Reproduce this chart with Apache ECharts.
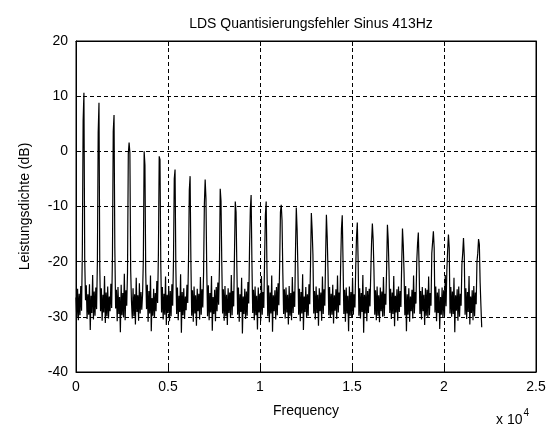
<!DOCTYPE html>
<html><head><meta charset="utf-8">
<script src="https://cdn.jsdelivr.net/npm/echarts@6/dist/echarts.min.js"></script>
<style>html,body{margin:0;padding:0;background:#fff}#c{width:555px;height:427px}</style>
</head><body><div id="c"></div>
<script>
// FFT bin spacing (fs = 44100 Hz, N = 1024)
const binHz = 44100 / 1024;
// Power spectral density (dB) per bin, 0 .. 22050 Hz
const psdDb = [
 /*0*/   -26.5,-30.2,-24.9,-30.6,-25.8,-29.7,-24.4,-28.9,-18.0,5.5,10.6,-19.5,-27.0,
 /*13*/  -24.3,-30.4,-25.9,-29.6,-24.1,-32.4,-26.2,-29.3,-22.4,-30.5,-25.4,-29.8,-24.7,-28.6,
 /*27*/  -20.0,3.4,8.8,-21.0,-29.0,
 /*32*/  -24.8,-30.7,-26.0,-29.2,-22.6,-31.1,-25.6,-29.9,-24.5,-30.3,-26.3,-29.0,-24.0,-28.4,
 /*46*/  -19.0,3.6,6.6,-17.5,-28.5,
 /*51*/  -25.1,-30.8,-24.6,-29.5,-26.4,-32.8,-24.2,-29.7,-25.7,-30.1,-22.2,-30.6,-25.2,-28.0,
 /*65*/  -22.0,-0.5,1.6,-0.2,-21.5,
 /*70*/  -27.2,-30.3,-24.8,-29.9,-25.9,-31.4,-22.9,-29.1,-26.1,-30.7,-23.9,-29.4,-25.5,-28.7,
 /*84*/  -26.0,-19.5,0.0,-2.5,-22.0,
 /*89*/  -28.6,-24.2,-30.9,-25.3,-29.4,-22.5,-32.6,-26.6,-29.8,-24.9,-30.2,-25.7,-29.0,-23.5,
 /*103*/ -27.5,-18.5,-0.9,-1.5,-20.5,
 /*108*/ -29.2,-24.6,-30.5,-25.8,-29.6,-22.7,-31.5,-26.0,-29.3,-24.4,-30.8,-25.3,-29.9,-24.1,
 /*122*/ -28.0,-20.0,-5.0,-3.3,-21.0,
 /*127*/ -29.5,-24.7,-30.6,-26.2,-29.1,-22.3,-32.9,-25.5,-29.7,-24.8,-30.4,-26.3,-28.8,-24.2,
 /*141*/ -27.5,-19.5,-7.0,-4.5,-20.0,
 /*146*/ -29.8,-25.2,-30.9,-24.5,-29.4,-26.1,-31.6,-24.9,-29.0,-25.8,-30.5,-22.8,-29.6,-25.0,
 /*160*/ -28.3,-22.0,-9.5,-5.1,-8.5,-21.5,
 /*166*/ -29.9,-24.3,-30.6,-25.7,-29.2,-22.6,-32.5,-26.4,-29.5,-25.1,-30.8,-24.6,-29.0,-23.8,
 /*180*/ -27.8,-21.0,-6.8,-9.0,-20.5,
 /*185*/ -29.4,-25.0,-30.7,-24.4,-29.9,-26.0,-31.5,-24.8,-29.3,-25.6,-30.2,-22.4,-29.7,-25.3,
 /*199*/ -28.1,-18.5,-9.1,-11.0,-21.0,
 /*204*/ -29.6,-24.7,-30.9,-25.9,-29.1,-22.9,-33.0,-26.3,-29.5,-24.9,-30.4,-25.4,-29.8,-23.7,
 /*218*/ -27.6,-17.5,-10.5,-7.9,-20.0,
 /*223*/ -29.3,-25.1,-30.6,-24.5,-29.7,-26.2,-32.3,-24.7,-29.2,-25.8,-30.8,-22.6,-29.6,-25.5,
 /*237*/ -28.4,-19.5,-11.5,-9.1,-21.5,
 /*242*/ -29.9,-24.3,-31.0,-25.6,-29.4,-22.5,-32.7,-26.1,-29.0,-25.2,-30.5,-24.6,-29.7,-23.9,
 /*256*/ -27.9,-20.5,-11.0,-9.7,-12.5,-22.0,
 /*262*/ -29.5,-25.0,-30.3,-24.7,-29.2,-26.0,-31.4,-24.4,-29.8,-25.7,-30.6,-22.8,-29.3,-25.4,
 /*276*/ -28.2,-18.0,-10.2,-14.0,-21.0,
 /*281*/ -29.6,-24.9,-30.8,-25.5,-29.4,-22.3,-32.4,-26.3,-29.1,-24.6,-30.2,-25.9,-29.8,-24.1,
 /*295*/ -27.7,-20.0,-11.2,-14.2,-18.7,
 /*300*/ -29.4,-25.3,-30.5,-24.5,-29.3,-26.0,-31.6,-24.8,-29.0,-25.6,-30.7,-22.7,-29.5,-25.0,
 /*314*/ -28.0,-19.0,-11.5,-15.5,-21.5,
 /*319*/ -29.7,-24.6,-30.1,-25.8,-29.6,-24.2,-31.2,-26.1,-28.9,-25.0,-30.4,-22.5,-29.2,-25.6,
 /*333*/ -27.9,-20.5,-14.0,-11.6,-20.0,
 /*338*/ -29.5,-25.1,-30.9,-24.7,-29.4,-26.2,-32.6,-24.5,-29.8,-25.5,-30.2,-22.9,-29.6,-25.9,
 /*352*/ -28.3,-21.0,-15.5,-12.9,-19.5,
 /*357*/ -29.8,-24.8,-30.3,-25.7,-29.1,-22.4,-32.9,-26.0,-29.4,-24.6,-30.8,-25.3,-29.3,-24.9,
 /*371*/ -28.1,-22.0,-16.5,-13.1,-16.0,-21.5,
 /*377*/ -29.6,-25.2,-30.6,-24.5,-29.8,-26.1,-31.0,-24.7,-29.0,-25.4,-30.0,-22.8,-29.9,-25.8,
 /*391*/ -27.8,-21.0,-13.3,-16.0,-21.5,
 /*396*/ -29.3,-24.9,-30.4,-25.6,-29.5,-22.6,-31.7,-26.2,-29.2,-25.0,-30.7,-24.5,-29.1,-25.3,
 /*410*/ -28.2,-20.5,-14.0,-17.0,-22.0,
 /*415*/ -29.7,-24.4,-32.6,-25.9,-29.6,-24.8,-30.9,-26.3,-29.0,-25.1,-30.3,-22.5,-29.4,-25.5,
 /*429*/ -27.6,-20.0,-16.8,-14.7,-21.0,
 /*434*/ -29.5,-25.3,-30.5,-24.6,-29.0,-26.0,-31.5,-24.8,-29.8,-25.1,-30.2,-22.7,-29.7,-25.7,
 /*448*/ -28.0,-18.5,-18.5,-14.5,-17.5,
 /*453*/ -29.2,-24.5,-30.8,-25.6,-29.3,-24.9,-32.2,-26.4,-29.6,-24.7,-30.1,-25.2,-29.8,-22.4,
 /*467*/ -28.1,-21.5,-18.0,-15.1,-17.5,
 /*472*/ -29.4,-24.6,-30.0,-25.4,-29.5,-22.9,-32.8,-26.1,-28.9,-25.0,-30.7,-24.5,-30.0,-25.8,
 /*486*/ -28.0,-20.5,-18.5,-15.7,-19.0,
 /*491*/ -29.6,-24.8,-30.4,-25.5,-29.1,-22.6,-31.4,-26.3,-29.3,-25.2,-30.6,-24.4,-29.9,-25.6,
 /*505*/ -27.7,-20.0,-18.5,-15.9,-16.8,-23.8,-28.0,-31.9
];
const xTicks = [0, 5000, 10000, 15000, 20000, 25000];
const yTicks = [-40, -30, -20, -10, 0, 10, 20];

const seriesData = psdDb.map((v, i) => [i * binHz, v]);
const FONT = 'Liberation Sans, Arial, sans-serif';
const chart = echarts.init(document.getElementById('c'), null, {renderer: 'canvas'});
const dash = {color: '#000', width: 1, type: [4, 3]};
const frameAxis = {show: true, onZero: false, lineStyle: {color: '#000'}};
const tick = {show: true, inside: true, length: 5, lineStyle: {color: '#000'}};
chart.setOption({
  animation: false,
  backgroundColor: '#fff',
  title: {
    text: 'LDS Quantisierungsfehler Sinus 413Hz',
    left: 306, top: 12, textAlign: 'center',
    textStyle: {fontFamily: FONT, fontSize: 14, fontWeight: 'normal', color: '#000'}
  },
  grid: {left: 76, right: 19, top: 41, bottom: 55, show: true, borderColor: '#000', borderWidth: 1, backgroundColor: '#fff'},
  xAxis: [{
    type: 'value', min: xTicks[0], max: xTicks[xTicks.length - 1], interval: 5000,
    name: 'Frequency', nameLocation: 'middle', nameGap: 32,
    nameTextStyle: {fontFamily: FONT, fontSize: 14, color: '#000'},
    axisLine: frameAxis, axisTick: tick,
    axisLabel: {fontFamily: FONT, fontSize: 14, color: '#000', margin: 8,
      formatter: v => String(v / 10000)},
    splitLine: {show: true, lineStyle: dash}
  }, {
    type: 'value', position: 'top', min: xTicks[0], max: xTicks[xTicks.length - 1], interval: 5000,
    axisLine: frameAxis, axisTick: tick,
    axisLabel: {show: false}, splitLine: {show: false}
  }],
  yAxis: [{
    type: 'value', min: yTicks[0], max: yTicks[yTicks.length - 1], interval: 10,
    name: 'Leistungsdichte (dB)', nameLocation: 'middle', nameGap: 44,
    nameTextStyle: {fontFamily: FONT, fontSize: 14, color: '#000'},
    axisLine: frameAxis, axisTick: tick,
    axisLabel: {fontFamily: FONT, fontSize: 14, color: '#000', margin: 8},
    splitLine: {show: true, lineStyle: dash}
  }, {
    type: 'value', position: 'right', min: yTicks[0], max: yTicks[yTicks.length - 1], interval: 10,
    axisLine: frameAxis, axisTick: tick,
    axisLabel: {show: false}, splitLine: {show: false}
  }],
  graphic: [{
    type: 'text', left: 496, top: 408,
    style: {
      text: '{b|x 10}{s|4}', fontFamily: FONT,
      rich: {
        b: {fontFamily: FONT, fontSize: 14, fill: '#000', color: '#000', padding: [8, 0, 0, 0]},
        s: {fontFamily: FONT, fontSize: 10, fill: '#000', color: '#000', padding: [0, 0, 6, 1]}
      }
    }
  }],
  series: [{
    type: 'line', data: seriesData, showSymbol: false, symbol: 'none',
    lineStyle: {color: '#000', width: 1.2}, xAxisIndex: 0, yAxisIndex: 0
  }]
});
</script></body></html>
